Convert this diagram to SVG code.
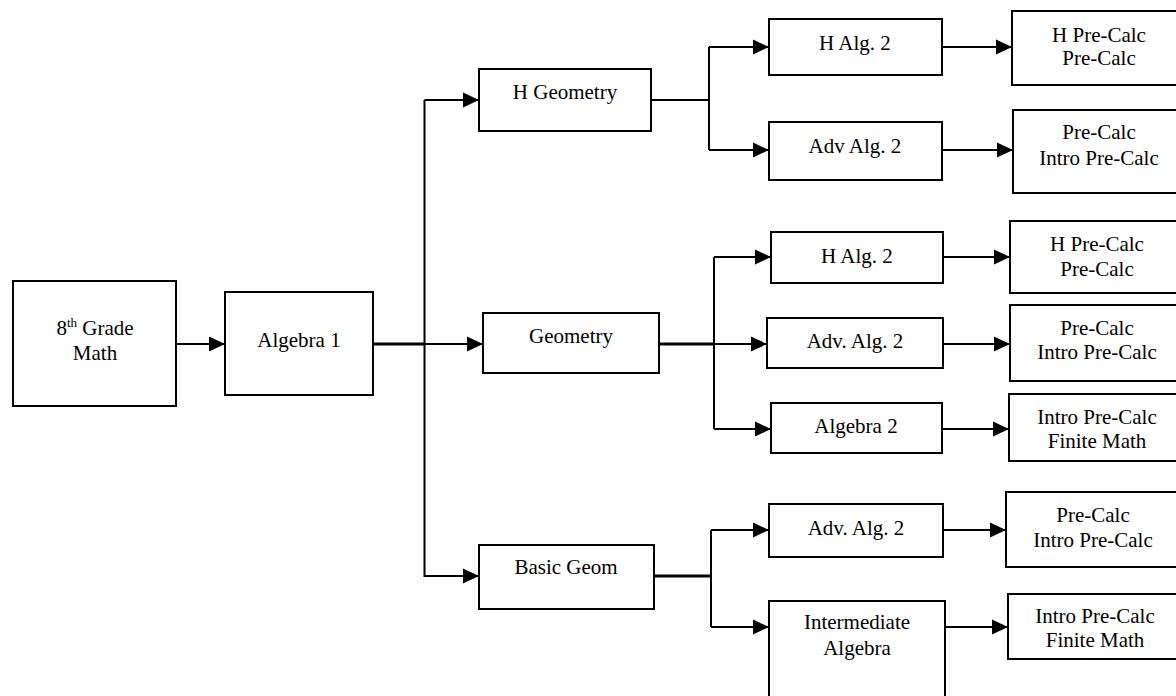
<svg xmlns="http://www.w3.org/2000/svg" width="1176" height="696" viewBox="0 0 1176 696">
  <style>
    .box { fill: #ffffff; stroke: #000000; stroke-width: 2; }
    .lbl { font-family: "Liberation Serif", "Times New Roman", serif; font-size: 21px; fill: #000000; text-anchor: middle; }
    .ln { fill: none; stroke: #000000; stroke-width: 2; }
    .thick { fill: none; stroke: #000000; stroke-width: 3; }
  </style>
  <defs>
    <marker id="arrow" markerUnits="userSpaceOnUse" markerWidth="16" markerHeight="16" refX="16" refY="8" orient="auto">
      <path d="M0,0.5 L16,8 L0,15.5 Z" fill="#000000"/>
    </marker>
  </defs>
  <rect width="1176" height="696" fill="#ffffff"/>

  <!-- connectors -->
  <g id="connectors">
    <!-- 8th grade to Algebra 1 -->
    <line class="ln" x1="176" y1="344" x2="225" y2="344" marker-end="url(#arrow)"/>
    <!-- Algebra 1 fan-out -->
    <line class="thick" x1="373" y1="344" x2="425" y2="344"/>
    <line class="ln" x1="424.5" y1="100" x2="424.5" y2="577"/>
    <polyline class="ln" points="424.5,100 479,100" marker-end="url(#arrow)"/>
    <line class="ln" x1="424.5" y1="344" x2="483" y2="344" marker-end="url(#arrow)"/>
    <polyline class="ln" points="424.5,576 479,576" marker-end="url(#arrow)"/>

    <!-- H Geometry fan-out -->
    <line class="ln" x1="651" y1="100" x2="709" y2="100"/>
    <line class="ln" x1="709" y1="47" x2="709" y2="150"/>
    <line class="ln" x1="709" y1="47" x2="769" y2="47" marker-end="url(#arrow)"/>
    <line class="ln" x1="709" y1="150" x2="769" y2="150" marker-end="url(#arrow)"/>

    <!-- Geometry fan-out -->
    <line class="thick" x1="659" y1="344" x2="714" y2="344"/>
    <line class="ln" x1="714" y1="257" x2="714" y2="429"/>
    <line class="ln" x1="714" y1="257" x2="771" y2="257" marker-end="url(#arrow)"/>
    <line class="ln" x1="714" y1="344" x2="767" y2="344" marker-end="url(#arrow)"/>
    <line class="ln" x1="714" y1="429" x2="771" y2="429" marker-end="url(#arrow)"/>

    <!-- Basic Geom fan-out -->
    <line class="thick" x1="654" y1="576" x2="711" y2="576"/>
    <line class="ln" x1="711" y1="530" x2="711" y2="627"/>
    <line class="ln" x1="711" y1="530" x2="769" y2="530" marker-end="url(#arrow)"/>
    <line class="ln" x1="711" y1="627" x2="769" y2="627" marker-end="url(#arrow)"/>

    <!-- second-year to third-year -->
    <line class="ln" x1="942" y1="47" x2="1012" y2="47" marker-end="url(#arrow)"/>
    <line class="ln" x1="942" y1="150" x2="1013" y2="150" marker-end="url(#arrow)"/>
    <line class="ln" x1="943" y1="257" x2="1010" y2="257" marker-end="url(#arrow)"/>
    <line class="ln" x1="943" y1="344" x2="1010" y2="344" marker-end="url(#arrow)"/>
    <line class="ln" x1="942" y1="429" x2="1009" y2="429" marker-end="url(#arrow)"/>
    <line class="ln" x1="943" y1="530" x2="1006" y2="530" marker-end="url(#arrow)"/>
    <line class="ln" x1="945" y1="627" x2="1008" y2="627" marker-end="url(#arrow)"/>
  </g>

  <!-- nodes -->
  <g id="grade8">
    <rect class="box" x="13" y="281" width="163" height="125"/>
    <text class="lbl" x="95" y="335">8<tspan font-size="13" dy="-8">th</tspan><tspan dy="8"> Grade</tspan></text>
    <text class="lbl" x="95" y="360">Math</text>
  </g>
  <g id="algebra1">
    <rect class="box" x="225" y="292" width="148" height="103"/>
    <text class="lbl" x="299" y="347">Algebra 1</text>
  </g>

  <g id="h-geometry">
    <rect class="box" x="479" y="69" width="172" height="62"/>
    <text class="lbl" x="565" y="99">H Geometry</text>
  </g>
  <g id="geometry">
    <rect class="box" x="483" y="313" width="176" height="60"/>
    <text class="lbl" x="571" y="343">Geometry</text>
  </g>
  <g id="basic-geom">
    <rect class="box" x="479" y="545" width="175" height="64"/>
    <text class="lbl" x="566" y="574">Basic Geom</text>
  </g>

  <g id="h-alg2-a">
    <rect class="box" x="769" y="19" width="173" height="56"/>
    <text class="lbl" x="855" y="50">H Alg. 2</text>
  </g>
  <g id="adv-alg2-a">
    <rect class="box" x="769" y="122" width="173" height="58"/>
    <text class="lbl" x="855" y="153">Adv Alg. 2</text>
  </g>
  <g id="h-alg2-b">
    <rect class="box" x="771" y="232" width="172" height="51"/>
    <text class="lbl" x="857" y="263">H Alg. 2</text>
  </g>
  <g id="adv-alg2-b">
    <rect class="box" x="767" y="318" width="176" height="50"/>
    <text class="lbl" x="855" y="348">Adv. Alg. 2</text>
  </g>
  <g id="algebra2">
    <rect class="box" x="771" y="403" width="171" height="50"/>
    <text class="lbl" x="856" y="433">Algebra 2</text>
  </g>
  <g id="adv-alg2-c">
    <rect class="box" x="769" y="504" width="174" height="53"/>
    <text class="lbl" x="856" y="535">Adv. Alg. 2</text>
  </g>
  <g id="intermediate-algebra">
    <rect class="box" x="769" y="601" width="176" height="100"/>
    <text class="lbl" x="857" y="629">Intermediate</text>
    <text class="lbl" x="857" y="655">Algebra</text>
  </g>

  <g id="precalc-a">
    <rect class="box" x="1012" y="11" width="176" height="74"/>
    <text class="lbl" x="1099" y="42">H Pre-Calc</text>
    <text class="lbl" x="1099" y="65">Pre-Calc</text>
  </g>
  <g id="precalc-b">
    <rect class="box" x="1013" y="110" width="176" height="83"/>
    <text class="lbl" x="1099" y="139">Pre-Calc</text>
    <text class="lbl" x="1099" y="165">Intro Pre-Calc</text>
  </g>
  <g id="precalc-c">
    <rect class="box" x="1010" y="221" width="176" height="72"/>
    <text class="lbl" x="1097" y="251">H Pre-Calc</text>
    <text class="lbl" x="1097" y="276">Pre-Calc</text>
  </g>
  <g id="precalc-d">
    <rect class="box" x="1010" y="305" width="176" height="76"/>
    <text class="lbl" x="1097" y="335">Pre-Calc</text>
    <text class="lbl" x="1097" y="359">Intro Pre-Calc</text>
  </g>
  <g id="finite-a">
    <rect class="box" x="1009" y="394" width="176" height="67"/>
    <text class="lbl" x="1097" y="424">Intro Pre-Calc</text>
    <text class="lbl" x="1097" y="448">Finite Math</text>
  </g>
  <g id="precalc-e">
    <rect class="box" x="1006" y="492" width="180" height="75"/>
    <text class="lbl" x="1093" y="522">Pre-Calc</text>
    <text class="lbl" x="1093" y="547">Intro Pre-Calc</text>
  </g>
  <g id="finite-b">
    <rect class="box" x="1008" y="594" width="178" height="65"/>
    <text class="lbl" x="1095" y="623">Intro Pre-Calc</text>
    <text class="lbl" x="1095" y="647">Finite Math</text>
  </g>
</svg>
